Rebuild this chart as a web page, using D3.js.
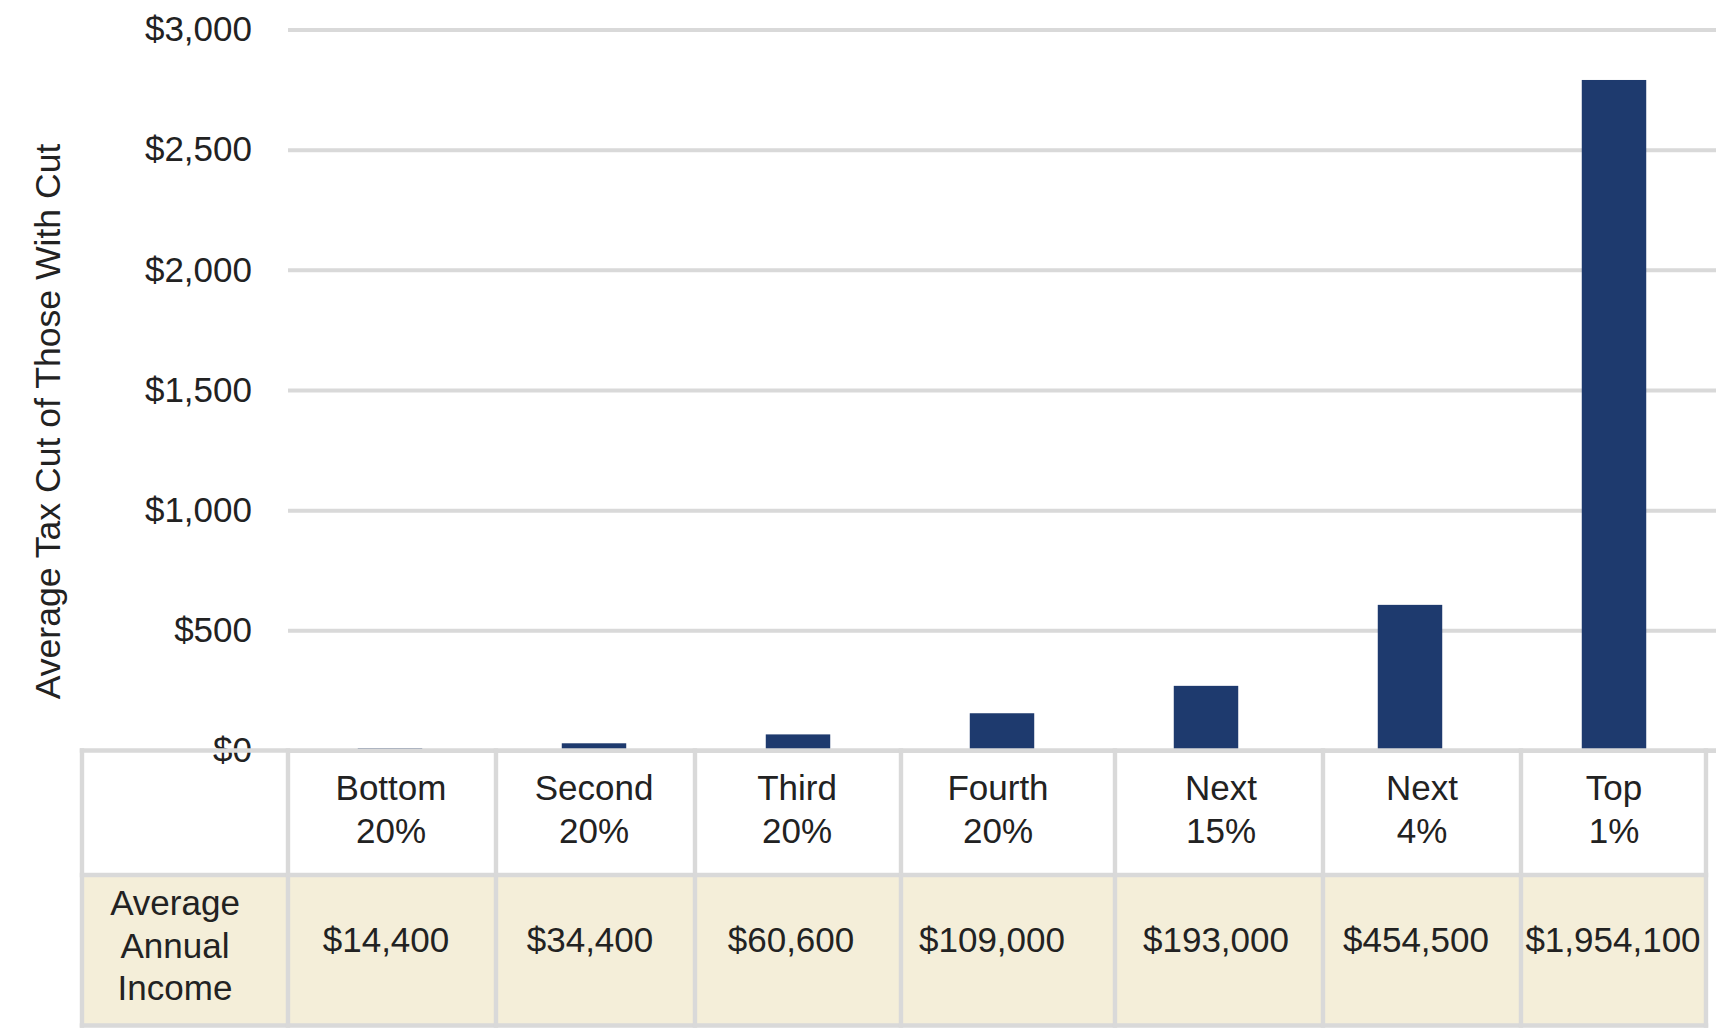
<!DOCTYPE html>
<html lang="en">
<head>
<meta charset="utf-8">
<title>Average Tax Cut of Those With Cut</title>
<script src="https://cdn.jsdelivr.net/npm/d3@7"></script>
<style>
  body { margin: 0; background: #fff; }
  svg text { font-family: "Liberation Sans", Arial, sans-serif; font-size: 35px; fill: #222; }
  .axis path { display: none; }
  .axis line { stroke: #d9d9d9; stroke-width: 4; }
  .grid line { stroke: #d9d9d9; stroke-width: 4.4; stroke-linecap: square; }
</style>
</head>
<body>
<script>
// data
var groups    = ["Bottom 20%", "Second 20%", "Third 20%", "Fourth 20%", "Next 15%", "Next 4%", "Top 1%"];
var taxCut    = [10, 30, 67, 155, 269, 606, 2790];
var avgIncome = ["$14,400", "$34,400", "$60,600", "$109,000", "$193,000", "$454,500", "$1,954,100"];
var yTicks    = [0, 500, 1000, 1500, 2000, 2500, 3000];
var rowLabel  = ["Average", "Annual", "Income"];

var W = 1716, H = 1032,
    plotLeft = 288, plotRight = 1716,
    y0 = 750.5, yTop = 29.5,
    // table layout
    colEdges   = [82, 288, 496, 695, 901, 1115, 1323, 1521, 1706],
    rowEdges   = [750.5, 875, 1025.5],
    headX      = [391, 594, 797, 998, 1221, 1422, 1614],
    incomeX    = [386, 590, 791, 992, 1216, 1416, 1613];

var svg = d3.select("body").append("svg")
    .attr("width", W)
    .attr("height", H);

var x = d3.scaleBand()
    .domain(d3.range(groups.length))
    .range([plotLeft, plotRight])
    .paddingInner(0.684)
    .paddingOuter(0.342);

var y = d3.scaleLinear()
    .domain([0, 3000])
    .range([y0, yTop]);

var yAxis = d3.axisLeft(y)
    .tickValues(yTicks)
    .tickSize(-(plotRight - plotLeft))
    .tickPadding(36)
    .tickFormat(function(d){ return "$" + d3.format(",")(d); });

svg.append("g")
    .attr("class", "axis")
    .attr("transform", "translate(" + plotLeft + ",0)")
    .call(yAxis)
    .selectAll("text")
    .style("fill", "#222");

svg.append("text")
    .attr("transform", "translate(60," + 421.5 + ") rotate(-90)")
    .attr("text-anchor", "middle")
    .style("font-size", "35.6px")
    .text("Average Tax Cut of Those With Cut");

svg.selectAll("rect.bar")
    .data(taxCut)
    .enter()
    .append("rect")
    .attr("class", "bar")
    .attr("x", function(d, i){ return x(i); })
    .attr("y", function(d){ return y(d); })
    .attr("width", x.bandwidth())
    .attr("height", function(d){ return y0 - y(d); })
    .attr("fill", "#1e3a6e");

// table
var table = svg.append("g").attr("class", "grid");

table.append("rect")
    .attr("x", colEdges[0])
    .attr("y", rowEdges[1])
    .attr("width", colEdges[colEdges.length - 1] - colEdges[0])
    .attr("height", rowEdges[2] - rowEdges[1])
    .attr("fill", "#f4eed9");

table.append("line")
    .attr("x1", colEdges[0]).attr("x2", W)
    .attr("y1", rowEdges[0]).attr("y2", rowEdges[0]);

table.selectAll("line.h")
    .data(rowEdges.slice(1))
    .enter()
    .append("line")
    .attr("class", "h")
    .attr("x1", colEdges[0]).attr("x2", colEdges[colEdges.length - 1])
    .attr("y1", function(d){ return d; }).attr("y2", function(d){ return d; });

table.selectAll("line.v")
    .data(colEdges)
    .enter()
    .append("line")
    .attr("class", "v")
    .attr("x1", function(d){ return d; }).attr("x2", function(d){ return d; })
    .attr("y1", rowEdges[0]).attr("y2", rowEdges[2]);

var head = svg.selectAll("text.group")
    .data(groups)
    .enter()
    .append("text")
    .attr("class", "group")
    .attr("text-anchor", "middle");

head.selectAll("tspan")
    .data(function(d, i){
        return d.split(" ").map(function(p, k){ return {t: p, i: i, k: k}; });
    })
    .enter()
    .append("tspan")
    .attr("x", function(d){ return headX[d.i]; })
    .attr("y", function(d){ return 800 + d.k * 43.3; })
    .text(function(d){ return d.t; });

svg.append("text")
    .attr("text-anchor", "middle")
    .selectAll("tspan")
    .data(rowLabel)
    .enter()
    .append("tspan")
    .attr("x", 175)
    .attr("y", function(d, k){ return 915 + k * 42.5; })
    .text(function(d){ return d; });

svg.selectAll("text.income")
    .data(avgIncome)
    .enter()
    .append("text")
    .attr("class", "income")
    .attr("text-anchor", "middle")
    .attr("x", function(d, i){ return incomeX[i]; })
    .attr("y", 952)
    .text(function(d){ return d; });
</script>
</body>
</html>
